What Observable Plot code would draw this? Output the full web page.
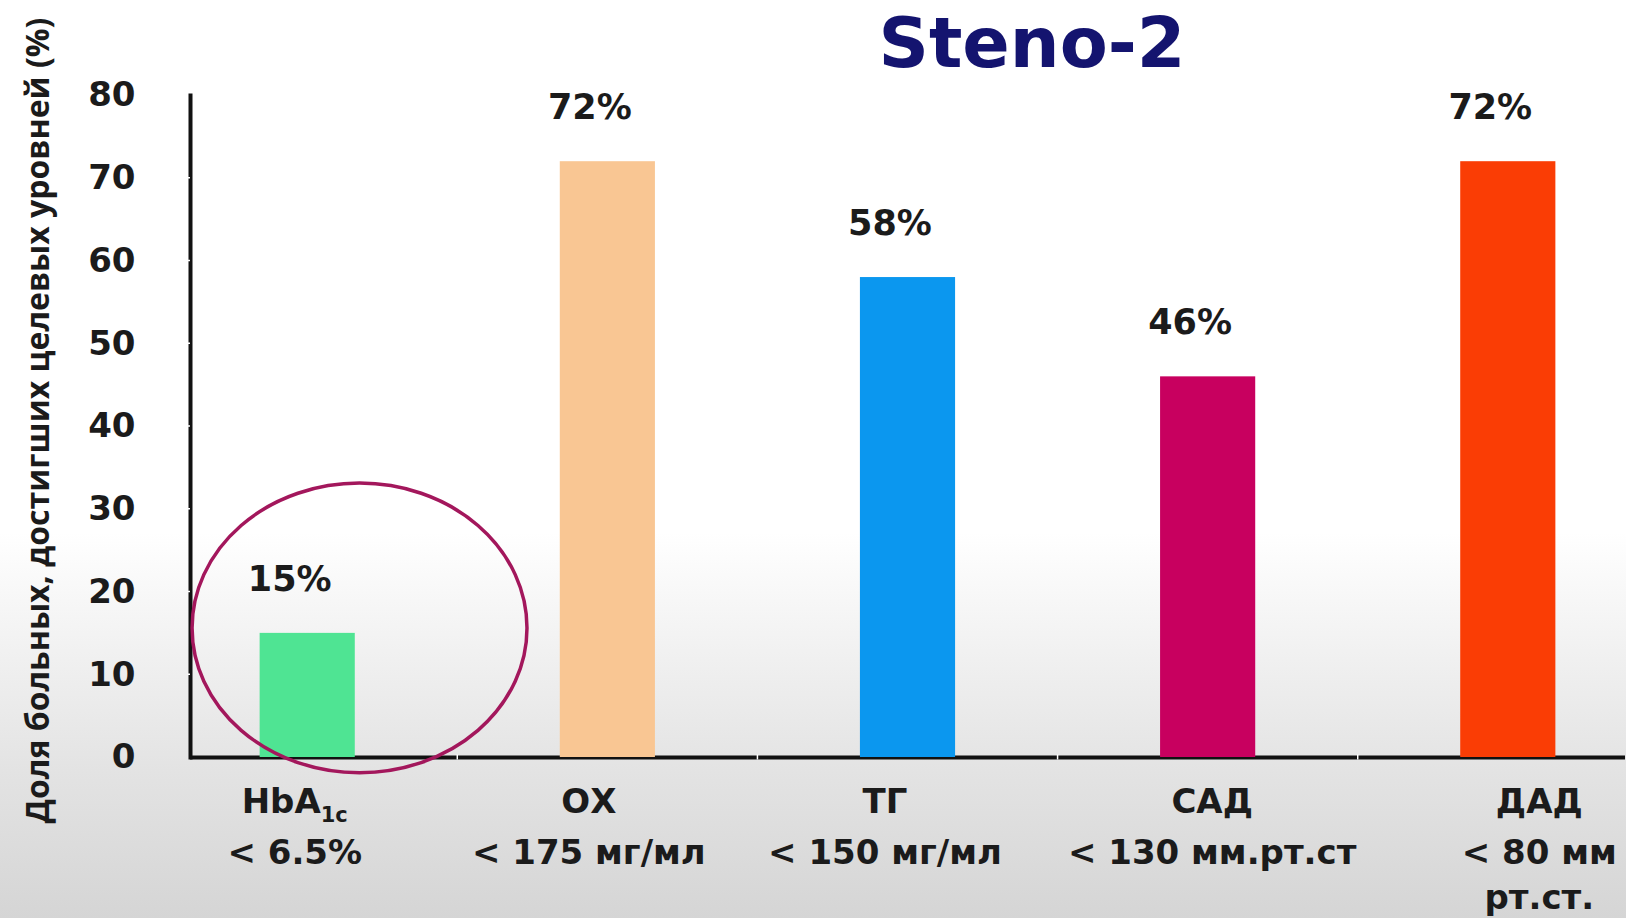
<!DOCTYPE html>
<html lang="ru">
<head>
<meta charset="utf-8">
<script src="https://cdn.jsdelivr.net/npm/d3@7"></script>
<script src="https://cdn.jsdelivr.net/npm/@observablehq/plot@0.6"></script>
<style>
  html, body { margin: 0; padding: 0; }
  #slide {
    position: relative;
    width: 1626px;
    height: 918px;
    overflow: hidden;
    background: linear-gradient(180deg, #ffffff 0%, #ffffff 58%, #f2f2f2 70%, #e3e3e3 84%, #d5d5d5 100%);
    font-family: "DejaVu Sans", sans-serif;
  }
  #title {
    position: absolute;
    left: 1032px;
    top: 8px;
    transform: translateX(-50%);
    margin: 0;
    font: bold 70px/70px "DejaVu Sans", sans-serif;
    color: #14146f;
    white-space: nowrap;
  }
  #chart { position: absolute; left: 0; top: 0; }
</style>
</head>
<body>
<div id="slide">
  <h1 id="title">Steno-2</h1>
  <div id="chart"></div>
</div>
<script>
// Steno-2: share of patients reaching each treatment target
const categories = ["HbA1c", "ОХ", "ТГ", "САД", "ДАД"];
const targets = ["< 6.5%", "< 175 мг/мл", "< 150 мг/мл", "< 130 мм.рт.ст", "< 80 мм\nрт.ст."];
const values = [15, 72, 58, 46, 72];
const barColors = ["#4fe493", "#f9c693", "#0b97ef", "#c8005f", "#fa3d05"];
const yTicks = [0, 10, 20, 30, 40, 50, 60, 70, 80];
const yLabel = "Доля больных, достигших целевых уровней (%)";

// horizontal nudge of each category caption, in pixels
const captionShift = [-13, -19, -23, 4, 31];

// circled category (HbA1c): centre and half-height in data units,
// horizontal centre and radius in band widths
const highlight = {category: "HbA1c", y: 15.6, halfHeight: 17.5, center: 1.05, radius: 1.76};

const rows = categories.map((category, i) => ({
  category,
  target: targets[i],
  value: values[i],
  color: barColors[i]
}));

const ink = "#1b1b1b";

// two-part caption under each bar: name, then target threshold
const captions = rows.flatMap((row, i) => [
  Plot.text([row], {
    x: "category", text: "category", frameAnchor: "bottom",
    lineAnchor: "top", dx: captionShift[i], dy: 31,
    fontSize: 34, fontWeight: "bold", fill: ink
  }),
  Plot.text([row], {
    x: "category", text: "target", frameAnchor: "bottom",
    lineAnchor: "top", dx: captionShift[i], dy: 75, lineHeight: 1.32,
    fontSize: 34, fontWeight: "bold", fill: ink
  })
]);

const chart = Plot.plot({
  width: 1626,
  height: 918,
  marginLeft: 190,
  marginRight: 1,
  marginTop: 95,
  marginBottom: 161,
  style: {background: "transparent", overflow: "visible", fontFamily: "DejaVu Sans"},
  x: {domain: categories, paddingInner: 0.683, paddingOuter: 0.232, round: false, axis: null},
  y: {domain: [0, 80], axis: null},
  color: {type: "identity"},
  marks: [
    Plot.ruleY([0], {stroke: "#111", strokeWidth: 4}),
    Plot.frame({anchor: "left", stroke: "#111", strokeWidth: 4}),
    Plot.barY(rows, {x: "category", y: "value", fill: "color"}),
    Plot.text(rows, {
      x: "category", y: "value", text: d => `${d.value}%`,
      dx: -18, dy: -54, fontSize: 35, fontWeight: "bold", fill: ink
    }),
    Plot.text(yTicks, {
      y: d => d, text: d => String(d), frameAnchor: "left",
      dx: -55, textAnchor: "end", fontSize: 34, fontWeight: "bold", fill: ink
    }),
    ...captions,
    Plot.text([yLabel], {
      frameAnchor: "left", rotate: -90, textAnchor: "middle", lineAnchor: "middle",
      dx: -152, dy: -6,
      fontFamily: "Open Sans", fontSize: 32, fontWeight: "bold", fill: ink
    })
  ]
});

document.getElementById("chart").append(chart);

const xs = chart.scale("x");
const ys = chart.scale("y");
const svg = d3.select(chart);
const bw = xs.bandwidth;
const x0 = 190;
const yBase = ys.apply(0);

// small white notches on the axis lines
const notches = svg.append("g").attr("stroke", "#fff").attr("stroke-width", 1.5);
yTicks.filter(t => t > 0 && t < 80).forEach(t => {
  const yy = ys.apply(t);
  notches.append("line").attr("x1", x0 - 2.5).attr("x2", x0).attr("y1", yy).attr("y2", yy);
});
categories.slice(1).forEach((c, i) => {
  const xx = (xs.apply(categories[i]) + bw + xs.apply(c)) / 2;
  notches.append("line").attr("x1", xx).attr("x2", xx).attr("y1", yBase - 2.5).attr("y2", yBase + 2.5);
});

// subscript in HbA1c
svg.selectAll("text").filter(function () { return this.textContent === "HbA1c"; })
  .each(function () {
    const t = d3.select(this);
    t.text("HbA");
    t.append("tspan").attr("dy", 9).attr("font-size", 21).text("1c");
  });

// ellipse around the HbA1c bar
const cx = xs.apply(highlight.category) + highlight.center * bw;
svg.append("ellipse")
  .attr("cx", cx)
  .attr("cy", ys.apply(highlight.y))
  .attr("rx", highlight.radius * bw)
  .attr("ry", yBase - ys.apply(highlight.halfHeight))
  .attr("fill", "none")
  .attr("stroke", "#a3175c")
  .attr("stroke-width", 3.5);
</script>
</body>
</html>
